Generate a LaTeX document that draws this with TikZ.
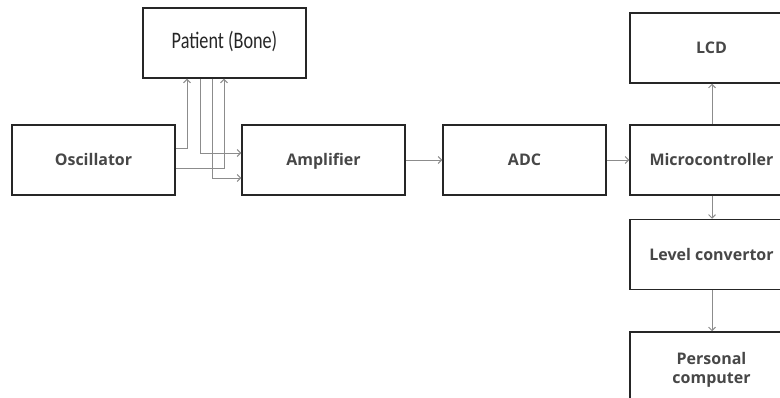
\documentclass[tikz,border=0pt]{standalone}
\usepackage{fontspec}
\setmainfont{Open Sans}
\newfontfamily\patfont{Carlito}
\usetikzlibrary{arrows.meta}
\begin{document}
\begin{tikzpicture}[x=1pt,y=-1pt,
  blk/.style={draw=black!85,line width=1.5pt,minimum width=163pt,minimum height=70pt,inner sep=0pt,
    text=black!72,font=\fontsize{16}{19}\selectfont\bfseries,align=center,text height=14.4pt,text depth=3pt},
  conn/.style={draw=black!45,line width=0.9pt,-{Straight Barb[length=3.5pt,width=7pt]}}]
\useasboundingbox (0,0) rectangle (780,398);
\clip (0,0) rectangle (780,398);
\node[blk,text=black!85,text height=16pt,text depth=5pt] (pat) at (224.5,43) {\scalebox{1}[1.3]{\patfont\mdseries\fontsize{18.2}{20}\selectfont Patient (Bone)}};
\node[blk] (osc) at (93.5,160) {Oscillator};
\node[blk] (amp) at (323.5,160) {Amplifier};
\node[blk] (adc) at (524.5,160) {ADC};
\node[blk] (mcu) at (711.5,160) {Microcontroller};
\node[blk] (lcd) at (711.5,48) {LCD};
\node[blk] (lvl) at (711.5,254.5) {Level convertor};
\node[blk,text height=36pt] (pc) at (711.5,367) {Personal\\computer};
% oscillator / patient / amplifier links
\coordinate (o1) at (osc.east |- 0,148);
\coordinate (p1) at (pat.south -| 187,0);
\draw[conn] (o1) -| (p1);
\coordinate (p2) at (pat.south -| 200,0);
\coordinate (a2) at (amp.west |- 0,153);
\draw[conn] (p2) |- (a2);
\coordinate (p3) at (pat.south -| 212,0);
\coordinate (a3) at (amp.west |- 0,178);
\draw[conn] (p3) |- (a3);
\coordinate (o4) at (osc.east |- 0,168);
\coordinate (p4) at (pat.south -| 224,0);
\draw[conn] (o4) -| (p4);
% chain
\draw[conn] (amp) -- (adc);
\draw[conn] (adc) -- (mcu);
\draw[conn] (mcu.north -| 712,0) -- (lcd.south -| 712,0);
\draw[conn] (mcu.south -| 712,0) -- (lvl.north -| 712,0);
\draw[conn] (lvl.south -| 712,0) -- (pc.north -| 712,0);
\end{tikzpicture}
\end{document}
